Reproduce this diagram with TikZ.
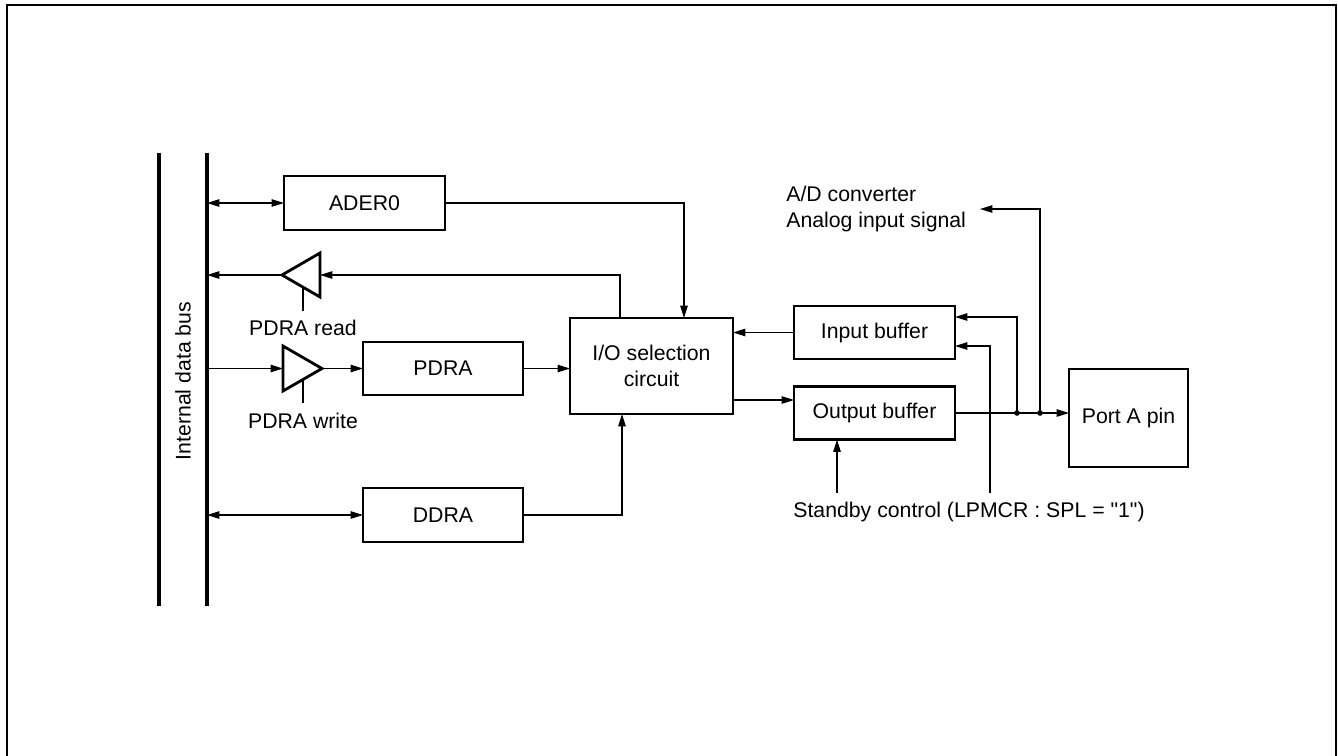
\documentclass[tikz,border=0pt]{standalone}
\usepackage{fontspec}
\setmainfont{Liberation Sans}[Ligatures=TeXOff]
\usetikzlibrary{arrows.meta}

\tikzset{
  blk/.style={draw, line width=1.6pt, inner sep=0pt, outer sep=0pt, align=center},
  lbl/.style={inner sep=0pt, align=left},
  sig/.style={line width=0.7pt},
  buf/.style={line width=1.6pt, line join=miter},
  busline/.style={line width=1.8pt},
}

\begin{document}
\begin{tikzpicture}[x=0.02cm, y=-0.02cm, >={Triangle[length=7pt,width=4.2pt]},
    every node/.style={font=\fontsize{12.1}{14.5}\selectfont}]
        \useasboundingbox (0,0) rectangle (1338,755);
        % outer frame
        \draw [line width=1.6pt] (7,760) -- (7,5) -- (1336,5) -- (1336,760);
        % internal data bus
        \draw [busline] (159,153) -- (159,606);
        \draw [busline] (207,153) -- (207,606);
        \coordinate (busR) at (207,0);
        \node [lbl, rotate=90] (busname) at (183,381) {Internal data bus};
        % blocks
        \node [blk, minimum width=3.22cm, minimum height=1.08cm] (ader) at (364.5,203) {ADER0};
        \node [blk, minimum width=3.2cm, minimum height=1.06cm] (pdra) at (443,368.5) {PDRA};
        \node [blk, minimum width=3.2cm, minimum height=1.08cm] (ddra) at (443,515) {DDRA};
        \node [blk, minimum width=3.26cm, minimum height=1.92cm] (io) at (651.5,366) {I/O selection\\circuit};
        \node [blk, minimum width=3.22cm, minimum height=1.06cm] (inbuf) at (874.5,332.5) {Input buffer};
        \node [blk, minimum width=3.22cm, minimum height=1.06cm] (outbuf) at (874.5,413) {Output buffer};
        \node [blk, minimum width=2.38cm, minimum height=1.96cm] (port) at (1128.5,418) {Port A pin};
        % read and write buffers
        \draw [buf] (320,253) -- (282,275) -- (320,297) -- cycle;
        \coordinate (rdtip) at (282,275);
        \coordinate (rdback) at (320,275);
        \draw [buf] (283,346) -- (322,368.5) -- (283,391) -- cycle;
        \coordinate (wrtip) at (322,368.5);
        \coordinate (wrback) at (283,368.5);
        \draw [sig] (303,287) -- (303,311);
        \node [lbl] (rdname) at (303,328) {PDRA read};
        \draw [sig] (303,380) -- (303,403);
        \node [lbl] (wrname) at (303,421) {PDRA write};
        % bus side
        \draw [sig,<->] (ader.west -| busR) -- (ader.west);
        \draw [sig,->] (rdtip) -- (rdtip -| busR);
        \draw [sig,->] (wrback -| busR) -- (wrback);
        \draw [sig,->] (wrtip) -- (pdra.west);
        \draw [sig,<->] (ddra.west -| busR) -- (ddra.west);
        % into and out of the selection circuit
        \coordinate (adin) at (684,318);
        \coordinate (rdout) at (620,318);
        \coordinate (ddin) at (622,414);
        \coordinate (ioout) at (733,400);
        \draw [sig,->] (ader.east) -| (adin);
        \draw [sig,->] (rdout) |- (rdback);
        \draw [sig,->] (pdra.east) -- (pdra.east -| io.west);
        \draw [sig,->] (ddra.east) -| (ddin);
        \draw [sig,->] (inbuf.west) -- (inbuf.west -| io.east);
        \draw [sig,->] (ioout) -- (ioout -| outbuf.west);
        % pin side
        \coordinate (j1) at (1017,413);
        \coordinate (j2) at (1040,413);
        \coordinate (inA) at (955,317);
        \coordinate (inB) at (955,346);
        \coordinate (adc) at (980,209);
        \coordinate (sbA) at (837,493);
        \coordinate (sbB) at (990,493);
        \draw [sig,->] (outbuf.east) -- (outbuf.east -| port.west);
        \fill (j1) circle (2.8) (j2) circle (2.8);
        \draw [sig,->] (j1) |- (inA);
        \draw [sig,->] (j2) |- (adc);
        \draw [sig,->] (sbB) |- (inB);
        \draw [sig,->] (sbA) -- (sbA |- outbuf.south);
        \node [lbl, anchor=west] (adname) at (786,209) {A/D converter\\Analog input signal};
        \node [lbl, anchor=west] (sbname) at (793,512) {Standby control (LPMCR : SPL = "1")};
\end{tikzpicture}
\end{document}
